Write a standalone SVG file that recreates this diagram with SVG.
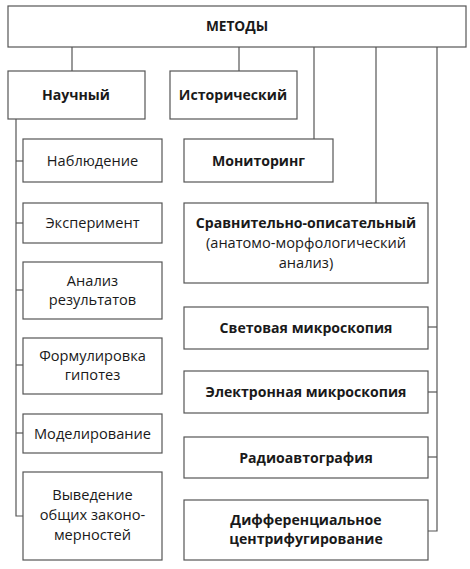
<svg xmlns="http://www.w3.org/2000/svg" width="470" height="569" viewBox="0 0 470 569">
<style>
.b{fill:#fff;stroke:#555;stroke-width:1.2}
.c line,.c polyline{stroke:#555;stroke-width:1.2;fill:none}
text{font-family:"Open Sans","Noto Sans",sans-serif;font-size:14.6px;fill:#1a1a1a;text-anchor:middle}
.bd{font-weight:bold;font-size:14.1px}
</style>
<rect width="470" height="569" fill="#fff"/>
<g class="c" id="connectors">
<line x1="72" y1="47" x2="72" y2="71"/>
<line x1="239" y1="47" x2="239" y2="71"/>
<line x1="314" y1="47" x2="314" y2="139"/>
<line x1="376" y1="47" x2="376" y2="203"/>
<polyline points="437,47 437,531 428,531"/>
<line x1="428" y1="327" x2="437" y2="327"/>
<line x1="428" y1="392" x2="437" y2="392"/>
<line x1="428" y1="457" x2="437" y2="457"/>
<polyline points="16,119 16,516 23,516"/>
<line x1="16" y1="161" x2="23" y2="161"/>
<line x1="16" y1="223" x2="23" y2="223"/>
<line x1="16" y1="290" x2="23" y2="290"/>
<line x1="16" y1="365" x2="23" y2="365"/>
<line x1="16" y1="433" x2="23" y2="433"/>
</g>
<g id="metody"><rect class="b" x="8" y="6" width="458" height="41"/><text class="bd" x="237" y="31" style="font-size:13.7px">МЕТОДЫ</text></g>
<g id="nauchny"><rect class="b" x="8" y="71" width="137" height="48"/><text class="bd" x="76" y="100">Научный</text></g>
<g id="istorichesky"><rect class="b" x="170" y="71" width="127" height="48"/><text class="bd" x="233" y="100">Исторический</text></g>
<g id="nablyudenie"><rect class="b" x="23" y="139" width="139" height="43"/><text x="92.5" y="166">Наблюдение</text></g>
<g id="eksperiment"><rect class="b" x="23" y="203" width="139" height="40"/><text x="92.5" y="228">Эксперимент</text></g>
<g id="analiz"><rect class="b" x="23" y="262" width="139" height="57"/><text x="92.5" y="286">Анализ</text><text x="92.5" y="305">результатов</text></g>
<g id="formulirovka"><rect class="b" x="23" y="338" width="139" height="56"/><text x="92.5" y="361">Формулировка</text><text x="92.5" y="380">гипотез</text></g>
<g id="modelirovanie"><rect class="b" x="23" y="414" width="139" height="39"/><text x="92.5" y="439">Моделирование</text></g>
<g id="vyvedenie"><rect class="b" x="23" y="472" width="139" height="88"/><text x="92.5" y="500">Выведение</text><text x="92.5" y="520">общих законо-</text><text x="92.5" y="540">мерностей</text></g>
<g id="monitoring"><rect class="b" x="184" y="139" width="149" height="43"/><text class="bd" x="258.5" y="166">Мониторинг</text></g>
<g id="sravnitelno"><rect class="b" x="184" y="203" width="244" height="80"/><text class="bd" x="306" y="228">Сравнительно-описательный</text><text x="306" y="248">(анатомо-морфологический</text><text x="306" y="268">анализ)</text></g>
<g id="svetovaya"><rect class="b" x="184" y="307" width="244" height="42"/><text class="bd" x="306" y="333">Световая микроскопия</text></g>
<g id="elektronnaya"><rect class="b" x="184" y="371" width="244" height="42"/><text class="bd" x="306" y="397">Электронная микроскопия</text></g>
<g id="radio"><rect class="b" x="184" y="437" width="244" height="41"/><text class="bd" x="306" y="463">Радиоавтография</text></g>
<g id="differ"><rect class="b" x="184" y="500" width="244" height="60"/><text class="bd" x="306" y="525">Дифференциальное</text><text class="bd" x="306" y="544">центрифугирование</text></g>
</svg>
